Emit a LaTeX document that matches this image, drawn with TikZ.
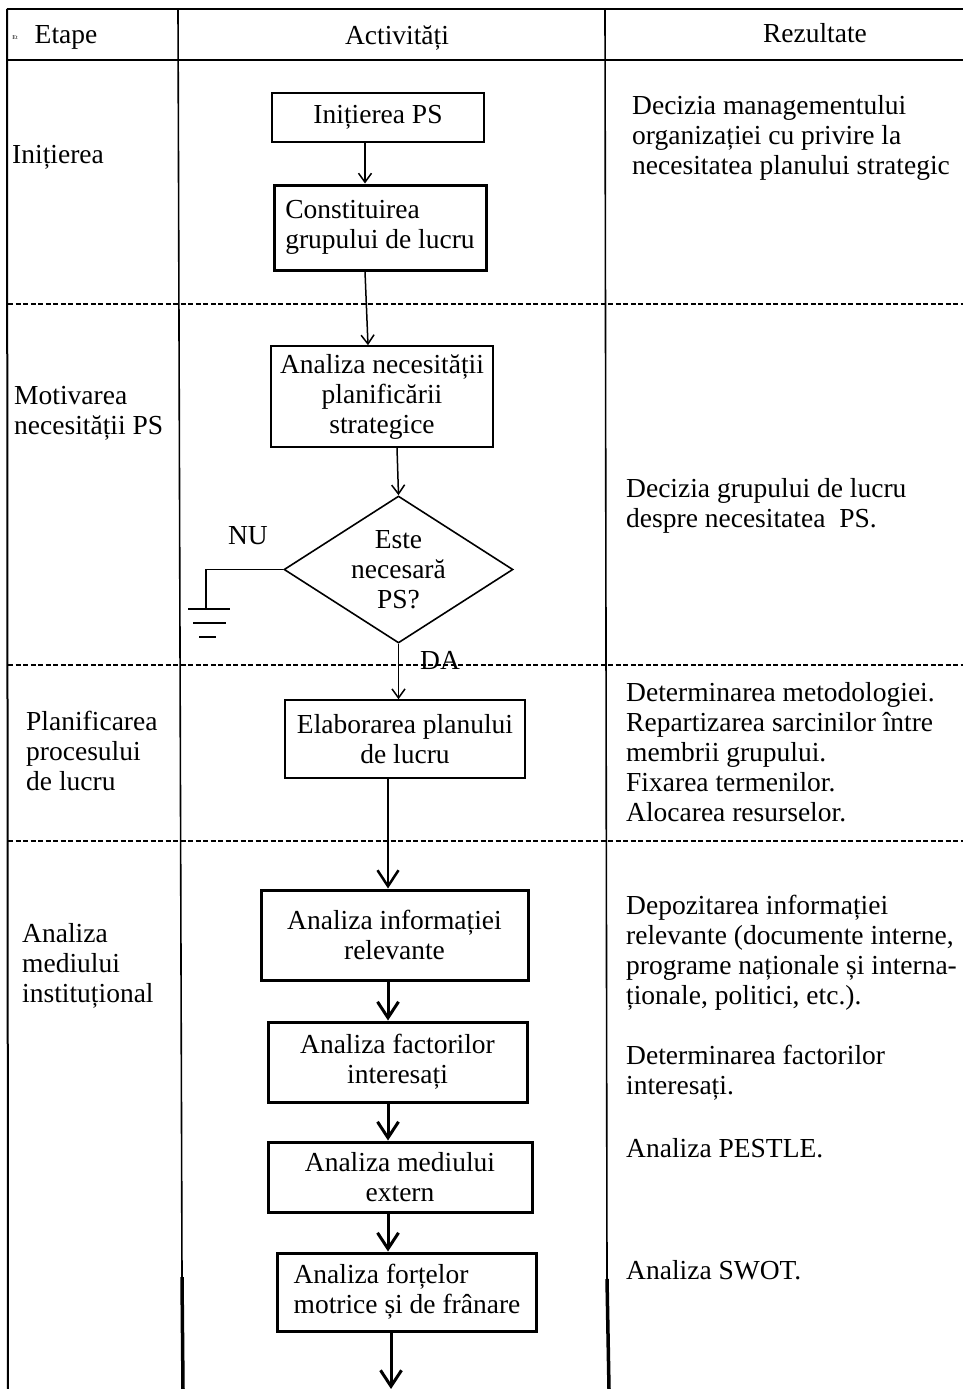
\documentclass[tikz,border=0pt]{standalone}
\usepackage{fontspec}
\setmainfont{Liberation Serif}
\usetikzlibrary{shapes.geometric,arrows.meta}
\begin{document}
\begin{tikzpicture}[x=1pt,y=-1pt,
  every node/.style={font=\fontsize{27.5}{30}\selectfont, inner sep=0pt},
  txt/.style={anchor=west, align=left},
  boxthin/.style={draw, line width=1.6pt, align=center},
  boxthick/.style={draw, line width=3pt, align=center},
  thinarr/.style={line width=1.5pt, -{Straight Barb[length=9pt,width=13pt]}},
  thickarr/.style={line width=3pt, -{Straight Barb[length=16pt,width=21pt]}},
  gridline/.style={line width=2pt},
  sepline/.style={line width=1.5pt, dash pattern=on 5pt off 2.5pt}]
\useasboundingbox (0,0) rectangle (963,1389);

% table frame
\draw[gridline] (7,9) -- (963,9);
\draw[gridline] (7,60) -- (963,60);
\draw[gridline] (7,9) -- (8,1389);
\draw[line width=1.6pt] (178,9) -- (182,1277);
\draw[line width=3.5pt] (182,1277) -- (183,1389);
\draw[line width=1.6pt] (605,9) -- (607,1279);
\draw[line width=3.5pt] (607,1279) -- (609,1389);
\draw[sepline] (8,304) -- (963,304);
\draw[sepline] (8,665) -- (963,665);
\draw[sepline] (8,841) -- (963,841);

% header
\node[font=\fontsize{6}{7}\selectfont] (et) at (15,38) {Et};
\node (h1) at (66,37) {Etape};
\node (h2) at (397,38) {Activități};
\node (h3) at (815,33) {Rezultate};

% stages
\node[txt] (s1) at (12,157) {Inițierea};
\node[txt] (s2) at (14,413) {Motivarea\\necesității PS};
\node[txt] (s3) at (26,751) {Planificarea\\procesului\\de lucru};
\node[txt] (s4) at (22,966) {Analiza\\mediului\\instituțional};

% results
\node[txt] (r1) at (632,138) {Decizia managementului\\organizației cu privire la\\necesitatea planului strategic};
\node[txt] (r2) at (626,506) {Decizia grupului de lucru\\despre necesitatea~~PS.};
\node[txt] (r3) at (626,752) {Determinarea metodologiei.\\Repartizarea sarcinilor între\\membrii grupului.\\Fixarea termenilor.\\Alocarea resurselor.};
\node[txt] (r4) at (626,953) {Depozitarea informației\\relevante (documente interne,\\programe naționale și interna-\\ționale, politici, etc.).};
\node[txt] (r5) at (626,1073) {Determinarea factorilor\\interesați.};
\node[txt] (r6) at (626,1148) {Analiza PESTLE.};
\node[txt] (r7) at (626,1270) {Analiza SWOT.};

% activities
\node[boxthin, minimum width=212pt, minimum height=49pt] (b1) at (378,117.5) {Inițierea PS};
\node[boxthick, align=left, minimum width=212pt, minimum height=85pt] (b2) at (380,227.5) {Constituirea\\grupului de lucru};
\node[boxthin, minimum width=222pt, minimum height=101pt] (b3) at (382,396.5) {Analiza necesității\\planificării\\strategice};
\node[draw, diamond, aspect=1.56, line width=1.6pt, minimum width=229pt, minimum height=147pt, align=center] (d) at (398.5,569.5) {Este\\necesară\\PS?};
\node[boxthin, minimum width=240pt, minimum height=78pt] (b5) at (405,739) {Elaborarea planului\\de lucru};
\node[boxthick, minimum width=267pt, minimum height=90pt] (b6) at (394.5,935) {Analiza informației\\relevante};
\node[boxthick, minimum width=259pt, minimum height=80pt] (b7) at (397.5,1062) {Analiza factorilor\\interesați};
\node[boxthick, minimum width=264pt, minimum height=70pt] (b8) at (400,1177) {Analiza mediului\\extern};
\node[boxthick, align=left, minimum width=259pt, minimum height=78pt] (b9) at (407,1292) {Analiza forțelor\\motrice și de frânare};

% labels
\node (nu) at (248,536) {NU};
\node (da) at (440,660) {DA};

% helper coordinates
\coordinate (ax1) at (365,0);
\coordinate (ax2) at (368,0);
\coordinate (ax3a) at (397,0);
\coordinate (ax5) at (388,0);
\coordinate (ax9) at (391,0);
\coordinate (endc) at (391,1389);
\coordinate (gnd) at (206,609);

% connectors
\draw[thinarr] (b1.south -| ax1) -- (b2.north -| ax1);
\draw[thinarr] (b2.south -| ax1) -- (b3.north -| ax2);
\draw[thinarr] (b3.south -| ax3a) -- (d.north);
\draw[thinarr] (d.south) -- (b5.north -| d.south);
\draw[line width=1.5pt] (d.west) -- (d.west -| gnd) -- (gnd);
\draw[line width=1.5pt] ([xshift=-18pt]gnd) -- ([xshift=24pt]gnd);
\draw[line width=1.5pt] ([xshift=-13pt,yshift=-14pt]gnd) -- ([xshift=20pt,yshift=-14pt]gnd);
\draw[line width=1.5pt] ([xshift=-7pt,yshift=-28pt]gnd) -- ([xshift=10pt,yshift=-28pt]gnd);
\draw[thickarr, line width=2.5pt] (b5.south -| ax5) -- (b6.north -| ax5);
\draw[thickarr] (b6.south -| ax5) -- (b7.north -| ax5);
\draw[thickarr] (b7.south -| ax5) -- (b8.north -| ax5);
\draw[thickarr] (b8.south -| ax5) -- (b9.north -| ax5);
\draw[thickarr] (b9.south -| ax9) -- (endc);
\end{tikzpicture}
\end{document}
